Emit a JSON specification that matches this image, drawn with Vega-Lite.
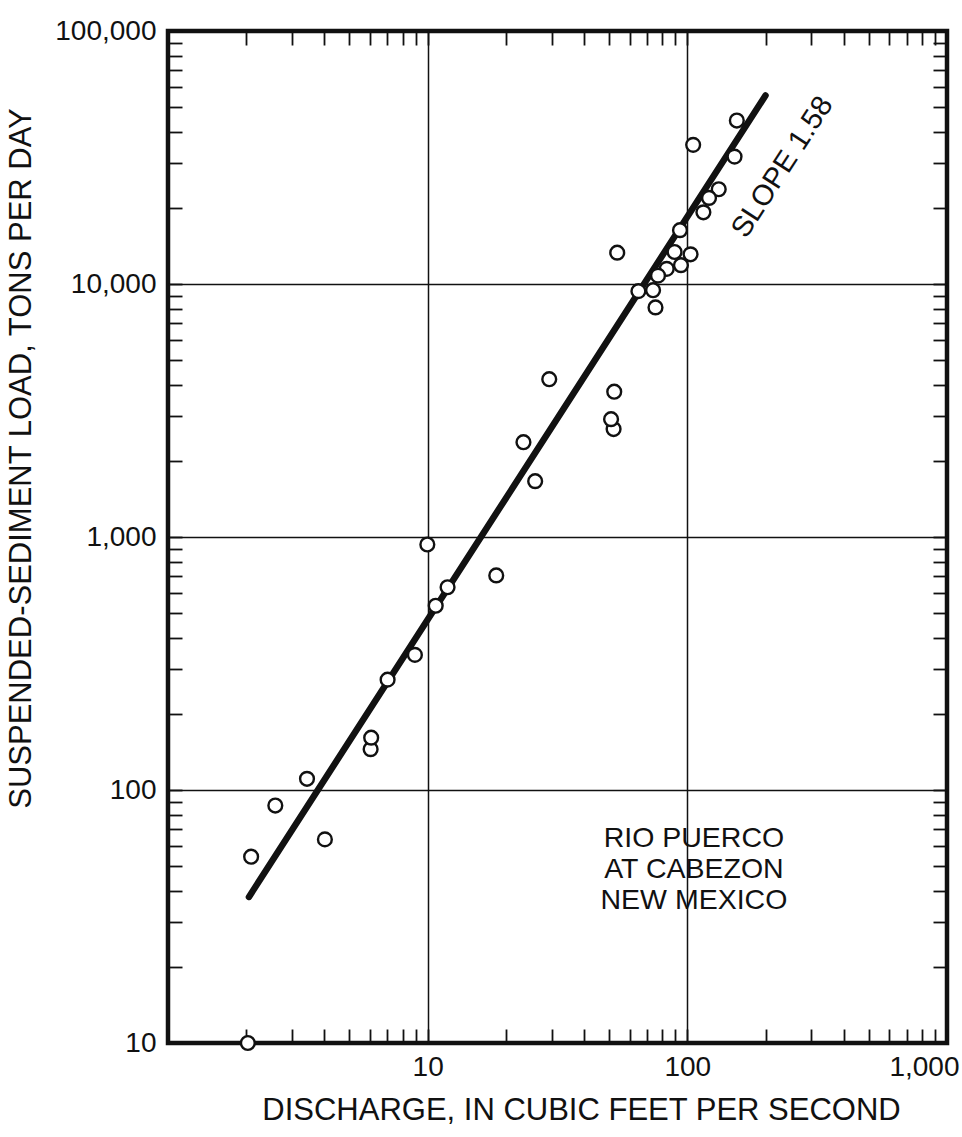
{
  "$schema": "https://vega.github.io/schema/vega-lite/v6.json",
  "width": 779,
  "height": 1012,
  "autosize": {"type": "none"},
  "padding": {"left": 168, "top": 31, "right": 15, "bottom": 94},
  "background": "white",
  "view": {"stroke": "#111", "strokeWidth": 4.5},
  "config": {
    "font": "Liberation Sans",
    "axis": {
      "domain": false,
      "labelFont": "Liberation Sans",
      "labelFontSize": 28,
      "labelColor": "#111",
      "labelOverlap": false,
      "labelFlush": false,
      "titleFont": "Liberation Sans",
      "titleFontSize": 31,
      "titleFontWeight": "normal",
      "titleColor": "#111",
      "tickColor": "#111",
      "tickWidth": 1.8,
      "tickSize": -14,
      "gridWidth": 1.5
    }
  },
  "datasets": {
    "obs": [
      {"q": 2.03, "load": 10},
      {"q": 2.09, "load": 54.5},
      {"q": 2.59, "load": 86.8},
      {"q": 3.43, "load": 110.7},
      {"q": 4.02, "load": 63.8},
      {"q": 6.03, "load": 145},
      {"q": 6.06, "load": 161},
      {"q": 7.01, "load": 273},
      {"q": 8.93, "load": 342},
      {"q": 10.74, "load": 535},
      {"q": 11.93, "load": 633},
      {"q": 9.97, "load": 934},
      {"q": 18.37, "load": 705},
      {"q": 25.94, "load": 1662},
      {"q": 23.38, "load": 2370},
      {"q": 29.39, "load": 4204},
      {"q": 52.0, "load": 2670},
      {"q": 50.85, "load": 2922},
      {"q": 52.3, "load": 3752},
      {"q": 155.1, "load": 44260},
      {"q": 105.3, "load": 35480},
      {"q": 152.0, "load": 31880},
      {"q": 132.1, "load": 23680},
      {"q": 121.2, "load": 21890},
      {"q": 115.3, "load": 19200},
      {"q": 93.7, "load": 16320},
      {"q": 53.7, "load": 13300},
      {"q": 89.3, "load": 13380},
      {"q": 102.9, "load": 13100},
      {"q": 94.5, "load": 11870},
      {"q": 83.3, "load": 11475},
      {"q": 77.1, "load": 10790},
      {"q": 73.8, "load": 9450},
      {"q": 64.8, "load": 9370},
      {"q": 75.4, "load": 8080}
    ],
    "fit": [
      {"q": 2.05, "load": 37.8},
      {"q": 200, "load": 55600}
    ],
    "one": [{"k": 1}]
  },
  "layer": [
    {
      "data": {"name": "fit"},
      "mark": {"type": "line", "color": "#111", "strokeWidth": 6.5, "strokeCap": "round"},
      "encoding": {
        "x": {
          "field": "q", "type": "quantitative",
          "scale": {"type": "log", "domain": [1, 1000], "nice": false},
          "axis": {
            "orient": "top", "labels": false, "grid": false, "title": null,
            "values": [1,2,3,4,5,6,7,8,9,10,20,30,40,50,60,70,80,90,100,200,300,400,500,600,700,800,900,1000]
          }
        },
        "y": {
          "field": "load", "type": "quantitative",
          "scale": {"type": "log", "domain": [10, 100000], "nice": false},
          "axis": {
            "orient": "right", "labels": false, "grid": false, "title": null,
            "values": [10,20,30,40,50,60,70,80,90,100,200,300,400,500,600,700,800,900,1000,2000,3000,4000,5000,6000,7000,8000,9000,10000,20000,30000,40000,50000,60000,70000,80000,90000,100000]
          }
        }
      }
    },
    {
      "data": {"name": "obs"},
      "mark": {"type": "point", "shape": "circle", "filled": false, "fill": "white", "fillOpacity": 1, "stroke": "#111", "strokeWidth": 2.4, "opacity": 1, "size": 190},
      "encoding": {
        "x": {
          "field": "q", "type": "quantitative",
          "scale": {"type": "log", "domain": [1, 1000], "nice": false},
          "axis": {
            "orient": "bottom",
            "grid": true,
            "title": "DISCHARGE, IN CUBIC FEET PER SECOND",
            "titleX": 413, "titleY": 67, "titleBaseline": "middle",
            "labelPadding": 24,
            "labelFlush": true,
            "labelFlushOffset": 12,
            "values": [1,2,3,4,5,6,7,8,9,10,20,30,40,50,60,70,80,90,100,200,300,400,500,600,700,800,900,1000],
            "labelExpr": "indexof([10,100,1000], datum.value) >= 0 ? format(datum.value, ',') : ''",
            "gridColor": {"condition": {"test": "indexof([10,100], datum.value) >= 0", "value": "#111"}, "value": "rgba(0,0,0,0)"}
          }
        },
        "y": {
          "field": "load", "type": "quantitative",
          "scale": {"type": "log", "domain": [10, 100000], "nice": false},
          "axis": {
            "orient": "left",
            "grid": true,
            "title": "SUSPENDED-SEDIMENT LOAD, TONS PER DAY",
            "titleX": -147, "titleY": 427, "titleBaseline": "middle",
            "labelPadding": 26,
            "values": [10,20,30,40,50,60,70,80,90,100,200,300,400,500,600,700,800,900,1000,2000,3000,4000,5000,6000,7000,8000,9000,10000,20000,30000,40000,50000,60000,70000,80000,90000,100000],
            "labelExpr": "indexof([10,100,1000,10000,100000], datum.value) >= 0 ? format(datum.value, ',') : ''",
            "gridColor": {"condition": {"test": "indexof([100,1000,10000], datum.value) >= 0", "value": "#111"}, "value": "rgba(0,0,0,0)"}
          }
        }
      }
    },
    {
      "data": {"name": "one"},
      "mark": {"type": "text", "text": "SLOPE 1.58", "font": "Liberation Sans", "fontSize": 29, "color": "#111", "angle": -57, "align": "center", "baseline": "middle"},
      "encoding": {
        "x": {"datum": 232, "type": "quantitative", "scale": {"type": "log", "domain": [1, 1000], "nice": false}, "axis": null},
        "y": {"datum": 29000, "type": "quantitative", "scale": {"type": "log", "domain": [10, 100000], "nice": false}, "axis": null}
      }
    },
    {
      "data": {"name": "one"},
      "mark": {"type": "text", "text": ["RIO PUERCO", "AT CABEZON", "NEW MEXICO"], "font": "Liberation Sans", "fontSize": 28.5, "lineHeight": 31, "color": "#111", "align": "center", "baseline": "middle"},
      "encoding": {
        "x": {"datum": 106, "type": "quantitative", "scale": {"type": "log", "domain": [1, 1000], "nice": false}, "axis": null},
        "y": {"datum": 64.6, "type": "quantitative", "scale": {"type": "log", "domain": [10, 100000], "nice": false}, "axis": null}
      }
    }
  ],
  "resolve": {"axis": {"x": "independent", "y": "independent"}}
}
